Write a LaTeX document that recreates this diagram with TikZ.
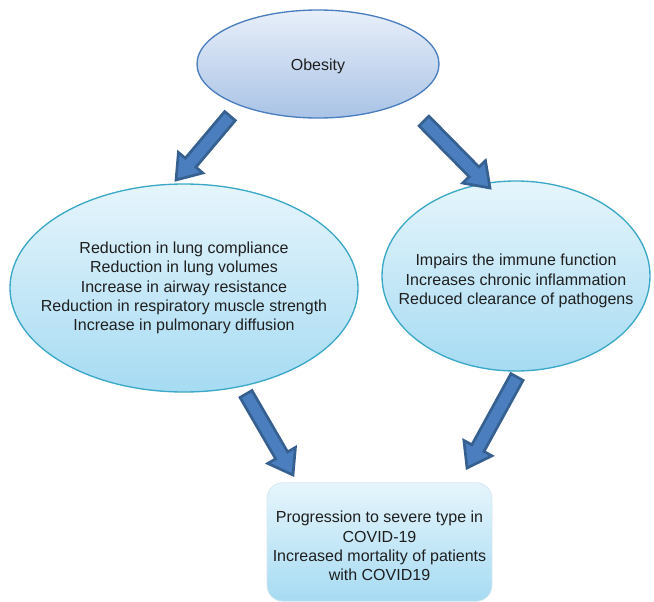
\documentclass[tikz,border=0pt]{standalone}
\usepackage{fontspec}
\setmainfont{Liberation Sans}
\usetikzlibrary{shapes.geometric,calc}
\definecolor{arrfill}{HTML}{4A7EBF}
\definecolor{arrdraw}{HTML}{35608F}
\definecolor{obtop}{HTML}{E8EFFA}
\definecolor{obbot}{HTML}{A9C3E5}
\definecolor{obdraw}{HTML}{4A7EBF}
\definecolor{cytop}{HTML}{E6F5FC}
\definecolor{cybot}{HTML}{A6DBF2}
\definecolor{cydraw}{HTML}{3AA8C6}
\definecolor{bxdraw}{HTML}{D6E9F0}
\tikzset{
  txt/.style={font=\fontsize{12pt}{14.5pt}\selectfont, text=black!88, align=center},
  obell/.style={ellipse, draw=obdraw, line width=1pt, top color=obtop, bottom color=obbot, inner sep=0pt},
  cyell/.style={ellipse, draw=cydraw, line width=1pt, top color=cytop, bottom color=cybot, inner sep=0pt},
  resbox/.style={rectangle, rounded corners=12pt, draw=bxdraw, line width=0.6pt, top color=cytop, bottom color=cybot, inner sep=0pt},
  barrow/.style={draw=arrdraw, fill=arrfill, line width=2pt, line join=miter}
}
\newcommand{\blockarrow}[2]{%
  \draw[barrow]
    ($(#1)!5.2pt!90:(#2)$) --
    ($($(#2)!17pt!(#1)$)!5.2pt!-90:(#1)$) --
    ($($(#2)!17pt!(#1)$)!12pt!-90:(#1)$) --
    (#2) --
    ($($(#2)!17pt!(#1)$)!12pt!90:(#1)$) --
    ($($(#2)!17pt!(#1)$)!5.2pt!90:(#1)$) --
    ($(#1)!5.2pt!-90:(#2)$) -- cycle;}
\begin{document}
\begin{tikzpicture}[x=0.75pt,y=-0.75pt]
\useasboundingbox (0,0) rectangle (654,601);
\node[obell, minimum width=181.5pt, minimum height=81pt] (ob) at (318,64) {};
\node[txt] (obt) at (318,66) {Obesity};
\node[cyell, minimum width=261pt, minimum height=156pt] (lung) at (184,288) {};
\node[txt] (lungt) at (184,288) {Reduction in lung compliance\\Reduction in lung volumes\\Increase in airway resistance\\Reduction in respiratory muscle strength\\Increase in pulmonary diffusion};
\node[cyell, minimum width=201pt, minimum height=142.5pt] (imm) at (516,276) {};
\node[txt] (immt) at (516,281) {Impairs the immune function\\Increases chronic inflammation\\Reduced clearance of pathogens};
\node[resbox, minimum width=168.75pt, minimum height=89pt] (res) at (379.5,542) {};
\node[txt] (rest) at (379.5,546) {Progression to severe type in\\COVID-19\\Increased mortality of patients\\with COVID19};
\coordinate (a1s) at (230,116);
\coordinate (a1e) at (176,180);
\coordinate (a2s) at (424,121);
\coordinate (a2e) at (490,188);
\coordinate (a3s) at (246,394);
\coordinate (a3e) at (293,475);
\coordinate (a4s) at (517,377);
\coordinate (a4e) at (467,468);
\blockarrow{a1s}{a1e}
\blockarrow{a2s}{a2e}
\blockarrow{a3s}{a3e}
\blockarrow{a4s}{a4e}
\end{tikzpicture}
\end{document}
